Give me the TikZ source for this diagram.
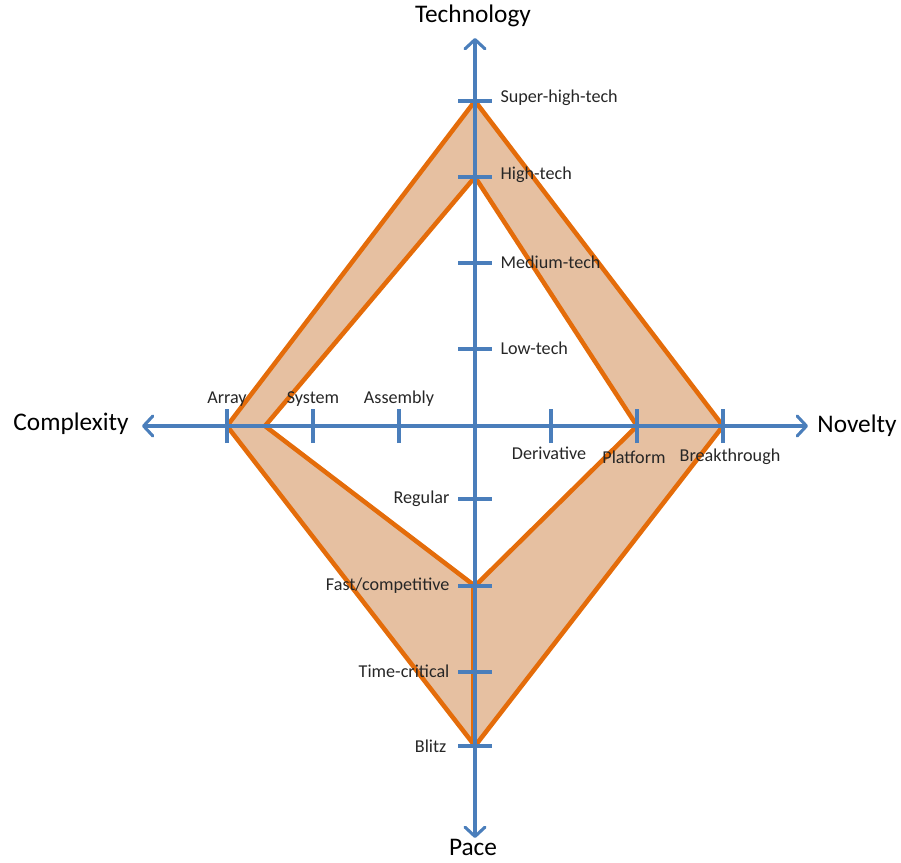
\documentclass[tikz,border=0pt]{standalone}
\usepackage{fontspec}
\setmainfont{Carlito}
\usetikzlibrary{arrows.meta}
\definecolor{axisblue}{HTML}{4A7EBB}
\definecolor{bandline}{HTML}{E46C0A}
\definecolor{bandfill}{HTML}{E6C0A1}
\begin{document}
\begin{tikzpicture}[x=0.75pt,y=-0.75pt]
\tikzstyle{axis}=[draw=axisblue, line width=2.3pt, -{Straight Barb[length=7pt,width=15pt,round]}]
\tikzstyle{tick}=[draw=axisblue, line width=2.3pt]
\tikzstyle{band}=[draw=bandline, line width=3.4pt, line join=miter]
\tikzstyle{lbl}=[inner sep=1pt, font=\fontsize{13.6}{15}\selectfont, text=black!85]
\tikzstyle{title}=[inner sep=1pt, font=\fontsize{19}{22}\selectfont]
\useasboundingbox (0,0) rectangle (901,863);

% axis ends and origin
\coordinate (O) at (475,426);
\coordinate (top) at (475,38);
\coordinate (bot) at (475,838);
\coordinate (lft) at (142,426);
\coordinate (rgt) at (808,426);

% tick points
\coordinate (sht) at (475,101);
\coordinate (ht)  at (475,177);
\coordinate (mt)  at (475,263);
\coordinate (lt)  at (475,349);
\coordinate (reg) at (475,499);
\coordinate (fc)  at (475,586);
\coordinate (tc)  at (475,672);
\coordinate (bl)  at (475,746);
\coordinate (asm) at (399,426);
\coordinate (sys) at (313,426);
\coordinate (arr) at (227,426);
\coordinate (der) at (551,426);
\coordinate (plt) at (637,426);
\coordinate (brk) at (723,426);
\coordinate (inl) at (265,426);

% band
\fill[bandfill, even odd rule] (sht) -- (brk) -- (bl) -- (arr) -- cycle
    (ht) -- (plt) -- (fc) -- (inl) -- cycle;
\draw[band] (sht) -- (brk) -- (bl) -- (arr) -- cycle;
\draw[band] (ht) -- (plt) -- (fc) -- (inl) -- cycle;
\draw[band] ([xshift=-1.5pt]fc) -- ([xshift=-1.5pt]bl);

% axes
\draw[axis] (O) -- (top);
\draw[axis] (O) -- (bot);
\draw[axis] (O) -- (lft);
\draw[axis] (O) -- (rgt);

\draw[tick] ([xshift=-12.75pt]sht) -- ([xshift=12.75pt]sht);
\draw[tick] ([xshift=-12.75pt]ht) -- ([xshift=12.75pt]ht);
\draw[tick] ([xshift=-12.75pt]mt) -- ([xshift=12.75pt]mt);
\draw[tick] ([xshift=-12.75pt]lt) -- ([xshift=12.75pt]lt);
\draw[tick] ([xshift=-12.75pt]reg) -- ([xshift=12.75pt]reg);
\draw[tick] ([xshift=-12.75pt]fc) -- ([xshift=12.75pt]fc);
\draw[tick] ([xshift=-12.75pt]tc) -- ([xshift=12.75pt]tc);
\draw[tick] ([xshift=-12.75pt]bl) -- ([xshift=12.75pt]bl);
\draw[tick] ([yshift=-12.75pt]asm) -- ([yshift=12.75pt]asm);
\draw[tick] ([yshift=-12.75pt]sys) -- ([yshift=12.75pt]sys);
\draw[tick] ([yshift=-12.75pt]arr) -- ([yshift=12.75pt]arr);
\draw[tick] ([yshift=-12.75pt]der) -- ([yshift=12.75pt]der);
\draw[tick] ([yshift=-12.75pt]plt) -- ([yshift=12.75pt]plt);
\draw[tick] ([yshift=-12.75pt]brk) -- ([yshift=12.75pt]brk);

% titles
\node[title] (tech) at (473,16) {Technology};
\node[title] (pace) at (473,847) {Pace};
\node[title] (cplx) at (71,424) {Complexity};
\node[title] (nov)  at (857,426) {Novelty};

% tick labels
\node[lbl, anchor=west] (shtL) at (499,98) {Super-high-tech};
\node[lbl, anchor=west] (htL)  at (499,175) {High-tech};
\node[lbl, anchor=west] (mtL)  at (499,262) {Medium-tech};
\node[lbl, anchor=west] (ltL)  at (499,348) {Low-tech};
\node[lbl, anchor=east] (regL) at (451,499) {Regular};
\node[lbl, anchor=east] (fcL)  at (451,586) {Fast/competitive};
\node[lbl, anchor=east] (tcL)  at (451,671) {Time-critical};
\node[lbl, anchor=east] (blL)  at (448,746) {Blitz};
\node[lbl] (arrL) at (227,399) {Array};
\node[lbl] (sysL) at (313,399) {System};
\node[lbl] (asmL) at (399,399) {Assembly};
\node[lbl] (derL) at (549,453) {Derivative};
\node[lbl] (pltL) at (634,457) {Platform};
\node[lbl] (brkL) at (730,457) {Breakthrough};
\end{tikzpicture}
\end{document}
